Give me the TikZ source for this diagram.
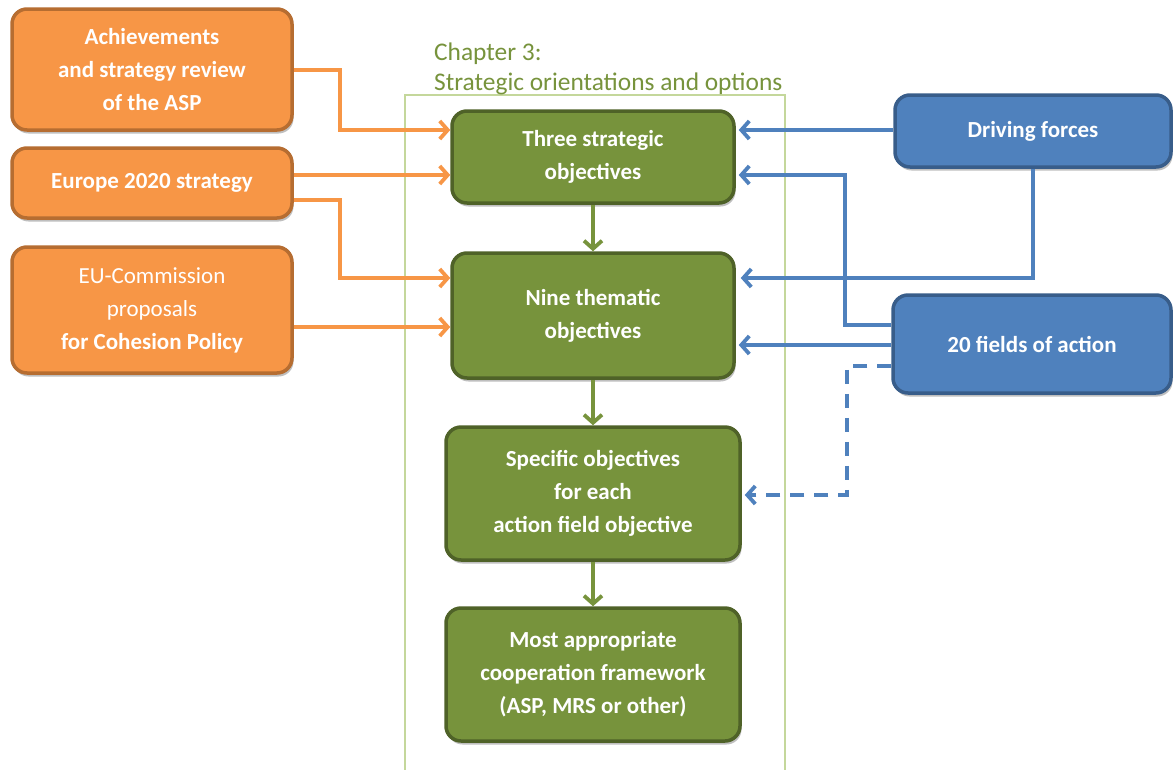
\documentclass[tikz,border=0pt]{standalone}
\usepackage{fontspec}
\setmainfont{Carlito}
\usetikzlibrary{arrows.meta,shadows}
\definecolor{orfill}{HTML}{F79646}
\definecolor{ordraw}{HTML}{B66D31}
\definecolor{blfill}{HTML}{4F81BD}
\definecolor{bldraw}{HTML}{385D8A}
\definecolor{grfill}{HTML}{77933C}
\definecolor{grdraw}{HTML}{4F6228}
\definecolor{frcol}{HTML}{C4D79B}
\tikzset{
  basebox/.style={rounded corners=15pt, line width=3.5pt, text=white, align=center,
    inner sep=0pt, font=\fontsize{23}{33}\selectfont\bfseries,
    drop shadow={shadow xshift=1.5pt, shadow yshift=-3.5pt, opacity=0.25, fill=black}},
  orangebox/.style={basebox, fill=orfill, draw=ordraw},
  greenbox/.style={basebox, fill=grfill, draw=grdraw},
  bluebox/.style={basebox, fill=blfill, draw=bldraw},
  conn/.style={line width=3.8pt, -{Straight Barb[length=8pt,width=18pt]}},
  oarrow/.style={conn, draw=orfill},
  barrow/.style={conn, draw=blfill},
  garrow/.style={conn, draw=grfill},
}
\begin{document}
\begin{tikzpicture}[x=1pt,y=-1pt]
\useasboundingbox (0,0) rectangle (1173,769);
\fill[white] (0,0) rectangle (1173,769);

% frame
\draw[draw=frcol, line width=1.2pt] (405,775) -- (405,95) -- (785,95) -- (785,775);
\node[anchor=north west, text=grfill, align=left, inner sep=0pt,
  font=\fontsize{25.4}{29.5}\selectfont] (chap) at (434,43) {Chapter 3:\\Strategic orientations and options};

% orange
\node[orangebox, minimum width=280pt, minimum height=121pt] (A) at (152,69.5)
  {Achievements\\and strategy review\\of the ASP};
\node[orangebox, minimum width=280pt, minimum height=70pt] (E) at (152,183)
  {Europe 2020 strategy};
\node[orangebox, minimum width=280pt, minimum height=126pt] (EU) at (152,310)
  {\mdseries EU-Commission\\\mdseries proposals\\for Cohesion Policy};

% green
\node[greenbox, minimum width=282pt, minimum height=92pt] (T) at (593,157)
  {Three strategic\\objectives};
\node[greenbox, minimum width=282pt, minimum height=125pt] (N) at (593,315.5)
  {Nine thematic\\objectives};
\node[greenbox, minimum width=294pt, minimum height=133pt] (S) at (593,493.5)
  {Specific objectives\\for each\\action field objective};
\node[greenbox, minimum width=294pt, minimum height=133pt] (M) at (593,674.5)
  {Most appropriate\\cooperation framework\\(ASP, MRS or other)};

% blue
\node[bluebox, minimum width=276pt, minimum height=72pt] (D) at (1033,131)
  {Driving forces};
\node[bluebox, minimum width=278pt, minimum height=98pt] (F) at (1032,344)
  {20 fields of action};

% orange connectors
\draw[oarrow] (A.east |- 0,70) -- (340,70) |- (T.west |- 0,130);
\draw[oarrow] (E.east |- 0,175) -- (T.west |- 0,175);
\draw[oarrow] (E.east |- 0,200) -- (340,200) |- (N.west |- 0,278);
\draw[oarrow] (EU.east |- 0,327) -- (N.west |- 0,327);

% green connectors
\draw[garrow] (T.south) -- (N.north);
\draw[garrow] (N.south) -- (S.north);
\draw[garrow] (S.south) -- (M.north);

% blue connectors
\draw[barrow] (D.west |- 0,130) -- ([xshift=3pt]T.east |- 0,130);
\draw[barrow] (D.south) |- ([xshift=5pt]N.east |- 0,278);
\draw[barrow] (F.west |- 0,325) -- (845,325) |- ([xshift=3pt]T.east |- 0,175);
\draw[barrow] (F.west |- 0,345) -- ([xshift=3pt]N.east |- 0,345);
\draw[barrow, dash pattern=on 14pt off 10pt] (F.west |- 0,366) -- (847,366) |- ([xshift=3pt]S.east |- 0,495);
\end{tikzpicture}
\end{document}
